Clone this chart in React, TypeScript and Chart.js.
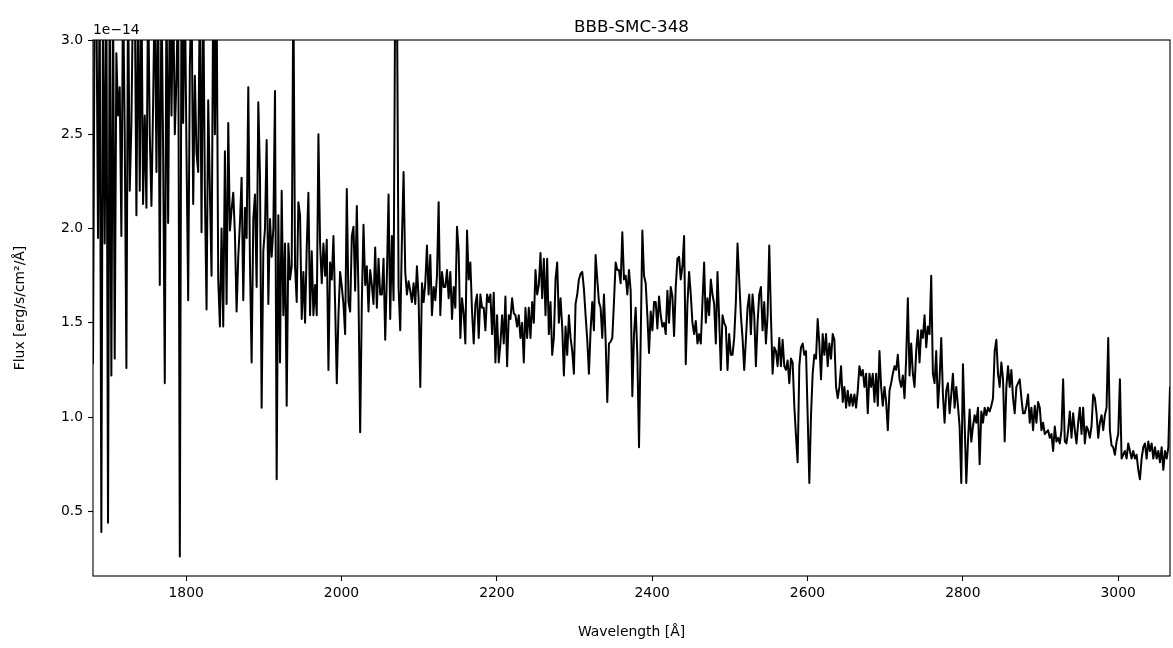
import React, { useEffect, useRef } from 'react';
import { Chart, registerables } from 'chart.js';

Chart.register(...registerables);

const TITLE = 'BBB-SMC-348';
const X_LABEL = 'Wavelength [Å]';
const Y_LABEL = 'Flux [erg/s/cm²/Å]';
const Y_OFFSET_TEXT = '1e\u221214';

const WAVE_START = 1680;
const WAVE_STEP = 2.15;
const xTickValues = [1800, 2000, 2200, 2400, 2600, 2800, 3000];
const yTickValues = [0.5, 1.0, 1.5, 2.0, 2.5, 3.0];
const Y_MIN = 0.157;
const Y_MAX = 3.0;

// flux in units of 1e-14 erg/s/cm^2/Å
const flux1680 = [
  1.28, 3.3, 3.3, 1.95, 3.3, 0.39, 3.3, 1.92, 3.3, 0.44,
  3.3, 1.22, 3.3, 1.31, 2.93, 2.6, 2.75, 1.96, 3.3, 2.5,
  1.26, 3.3, 2.2, 2.55, 3.3, 3.3, 2.07, 3.3, 2.2, 3.3,
  2.13, 2.6, 2.11, 3.3, 2.5, 2.12, 2.66, 3.3, 2.3, 3.3,
  1.70, 3.3, 2.41, 1.18, 3.3, 2.03, 3.3, 2.6, 3.3, 2.5,
  2.8, 3.3, 0.26, 3.3, 2.56, 3.3, 2.4, 1.62, 2.86, 3.3,
  2.13, 2.81, 2.4, 2.3, 3.3, 1.98, 3.3, 2.2, 1.57, 2.68,
  2.2, 1.75, 3.3, 2.5, 3.3, 1.73, 1.48,
];
const flux1846 = [
  2.0, 1.48, 2.41, 1.60, 2.56, 1.99, 2.10, 2.19, 1.97, 1.56,
  1.85, 2.03, 2.27, 1.62, 2.11, 1.95, 2.75, 1.82, 1.29, 2.05,
  2.18, 1.69, 2.67, 2.28, 1.05, 1.88, 2.00, 2.47, 1.60, 2.05,
  1.85, 2.0, 2.73, 0.67, 2.07, 1.29, 2.20, 1.54, 1.92, 1.06,
  1.92, 1.73, 1.80, 3.3, 1.80, 1.61, 2.14, 2.07, 1.52, 1.77,
  1.50, 1.90, 2.19, 1.54, 1.88, 1.54, 1.70, 1.54, 2.50, 1.92,
  1.71, 1.92, 1.75, 1.94, 1.25, 1.82, 1.73, 1.96, 1.60, 1.18,
  1.54, 1.77, 1.69, 1.60, 1.44, 2.21, 1.61, 1.56, 1.96, 2.01,
];
const flux2018 = [
  1.67, 2.12, 1.65, 0.92, 1.61, 2.02, 1.70, 1.80, 1.56, 1.78,
  1.70, 1.60, 1.90, 1.58, 1.84, 1.65, 1.65, 1.84, 1.41, 1.75,
  2.18, 1.52, 1.96, 1.62, 3.3, 3.3, 1.69, 1.46, 1.94, 2.30,
  1.77, 1.65, 1.72, 1.67, 1.61, 1.71, 1.60, 1.80, 1.63, 1.16,
  1.71, 1.61, 1.71, 1.91, 1.65, 1.86, 1.54, 1.69, 1.62, 1.75,
  2.14, 1.54, 1.77, 1.69, 1.69, 1.78, 1.63, 1.77, 1.52, 1.69,
  1.58, 2.01, 1.88, 1.42, 1.63, 1.55, 1.39, 1.99, 1.73, 1.82,
  1.56, 1.39, 1.60, 1.65, 1.42, 1.65, 1.58, 1.58, 1.46, 1.65,
  1.61,
];
const flux2192 = [
  1.65, 1.44, 1.66, 1.29, 1.54, 1.29, 1.39, 1.54, 1.39, 1.64,
  1.27, 1.54, 1.52, 1.63, 1.55, 1.54, 1.48, 1.54, 1.42, 1.50,
  1.29, 1.58, 1.42, 1.58, 1.42, 1.61, 1.50, 1.78, 1.65, 1.70,
  1.87, 1.63, 1.84, 1.54, 1.84, 1.44, 1.61, 1.33, 1.42, 1.73,
  1.82, 1.50, 1.63, 1.48, 1.22, 1.48, 1.33, 1.54, 1.42, 1.35,
  1.23, 1.60, 1.65, 1.73, 1.76, 1.77, 1.68, 1.54, 1.41, 1.23,
  1.46, 1.61, 1.46, 1.86, 1.73, 1.61, 1.58, 1.42, 1.65, 1.41,
  1.08, 1.39, 1.40, 1.42, 1.61, 1.82, 1.78, 1.78, 1.71, 1.98,
  1.73,
];
const flux2366 = [
  1.75, 1.65, 1.78, 1.67, 1.11, 1.44, 1.58, 1.33, 0.84, 1.41,
  1.99, 1.75, 1.71, 1.54, 1.34, 1.56, 1.46, 1.61, 1.61, 1.47,
  1.64, 1.54, 1.48, 1.50, 1.44, 1.67, 1.50, 1.69, 1.64, 1.43,
  1.69, 1.84, 1.85, 1.73, 1.80, 1.96, 1.28, 1.60, 1.77, 1.65,
  1.50, 1.44, 1.51, 1.39, 1.44, 1.39, 1.61, 1.82, 1.50, 1.63,
  1.54, 1.73, 1.65, 1.60, 1.39, 1.77, 1.52, 1.25, 1.54, 1.50,
  1.48, 1.25, 1.44, 1.33, 1.33, 1.42, 1.61, 1.92, 1.73, 1.54,
  1.42, 1.25, 1.41, 1.58, 1.65, 1.44, 1.65, 1.54, 1.27, 1.50,
  1.65,
];
const flux2540 = [
  1.69, 1.46, 1.61, 1.39, 1.54, 1.91, 1.54, 1.23, 1.37, 1.35,
  1.27, 1.42, 1.27, 1.41, 1.27, 1.25, 1.30, 1.18, 1.31, 1.29,
  1.06, 0.90, 0.76, 1.27, 1.37, 1.39, 1.33, 1.35, 1.01, 0.65,
  1.01, 1.23, 1.33, 1.31, 1.52, 1.39, 1.20, 1.44, 1.33, 1.44,
  1.27, 1.39, 1.31, 1.44, 1.41, 1.16, 1.10, 1.16, 1.27, 1.08,
  1.16, 1.05, 1.14, 1.06, 1.12, 1.06, 1.12, 1.05, 1.14, 1.27,
  1.22, 1.25, 1.16, 1.23, 1.02, 1.23, 1.16, 1.23, 1.08, 1.23,
  1.06, 1.35, 1.16, 1.06, 1.16, 1.08, 0.93, 1.14, 1.18, 1.23,
  1.27,
];
const flux2714 = [
  1.25, 1.33, 1.20, 1.16, 1.22, 1.10, 1.31, 1.63, 1.22, 1.39,
  1.23, 1.16, 1.35, 1.46, 1.29, 1.46, 1.42, 1.54, 1.37, 1.48,
  1.44, 1.75, 1.23, 1.18, 1.35, 1.05, 1.20, 1.42, 1.12, 0.97,
  1.14, 1.18, 1.02, 1.12, 1.23, 1.05, 1.16, 1.06, 0.95, 0.65,
  1.28, 0.97, 0.65, 0.87, 1.04, 0.87, 0.95, 1.01, 0.97, 1.05,
  0.75, 1.03, 0.97, 1.05, 1.01, 1.05, 1.03, 1.06, 1.10, 1.35,
  1.41, 1.23, 1.16, 1.29, 1.20, 0.87, 1.16, 1.27, 1.16, 1.25,
  1.10, 1.02, 1.16, 1.18, 1.20, 1.10, 1.02, 1.02, 1.06, 1.12,
  0.97,
];
const flux2888 = [
  1.05, 0.93, 1.06, 0.97, 1.08, 1.05, 0.93, 0.97, 0.91, 0.92,
  0.93, 0.89, 0.91, 0.82, 0.95, 0.87, 0.89, 0.86, 0.93, 1.20,
  0.87, 0.86, 0.93, 1.03, 0.89, 1.02, 0.93, 0.86, 0.97, 1.05,
  0.91, 1.05, 0.86, 0.95, 0.93, 0.89, 0.95, 1.12, 1.10, 1.02,
  0.89, 0.97, 1.01, 0.93, 1.01, 1.05, 1.42, 0.93, 0.85, 0.84,
  0.80, 0.87, 0.91, 1.20, 0.78, 0.80, 0.82, 0.78, 0.86, 0.82,
  0.78, 0.82, 0.78, 0.80, 0.72, 0.67, 0.78, 0.84, 0.86, 0.78,
  0.87, 0.82, 0.86, 0.78, 0.84, 0.78, 0.82, 0.76, 0.84, 0.72,
  0.82, 0.78, 0.84, 1.16,
];

const FONT = "'DejaVu Sans', sans-serif";

export default function App() {
  const ref = useRef<HTMLCanvasElement | null>(null);

  useEffect(() => {
    const canvas = ref.current;
    if (!canvas) return;
    const flux = [
      ...flux1680, ...flux1846, ...flux2018, ...flux2192,
      ...flux2366, ...flux2540, ...flux2714, ...flux2888,
    ];
    const points = flux.map((f, i) => ({ x: WAVE_START + i * WAVE_STEP, y: f }));
    const xMin = points[0].x;
    const xMax = points[points.length - 1].x;

    const decor = {
      id: 'decor',
      afterDatasetsDraw(chart: any) {
        const { ctx, chartArea: a } = chart;
        ctx.save();
        ctx.strokeStyle = '#000';
        ctx.lineWidth = 1.1;
        ctx.strokeRect(a.left, a.top, a.right - a.left, a.bottom - a.top);
        ctx.fillStyle = '#000';
        ctx.textBaseline = 'alphabetic';
        ctx.font = `16.7px ${FONT}`;
        ctx.textAlign = 'center';
        ctx.fillText(TITLE, (a.left + a.right) / 2, a.top - 8.3);
        ctx.font = `13.9px ${FONT}`;
        ctx.textAlign = 'left';
        ctx.fillText(Y_OFFSET_TEXT, a.left, a.top - 6);
        ctx.restore();
      },
    };

    const chart = new Chart(canvas, {
      type: 'line',
      data: {
        datasets: [
          {
            data: points,
            borderColor: '#000',
            borderWidth: 2,
            pointRadius: 0,
            tension: 0,
            fill: false,
            borderJoinStyle: 'round',
            clip: 0,
          } as any,
        ],
      },
      options: {
        animation: false,
        responsive: false,
        devicePixelRatio: 1,
        parsing: false,
        layout: { padding: { left: 0, right: 3, top: 40, bottom: 0 } },
        plugins: {
          legend: { display: false },
          title: { display: false },
          tooltip: { enabled: false },
        },
        scales: {
          x: {
            type: 'linear',
            min: xMin,
            max: xMax,
            afterBuildTicks: (s: any) => {
              s.ticks = xTickValues.map((v) => ({ value: v }));
            },
            afterFit: (s: any) => {
              s.height = 72;
            },
            grid: {
              display: true,
              drawOnChartArea: false,
              drawTicks: true,
              tickLength: 5,
              tickColor: '#000',
              tickWidth: 1.1,
            },
            border: { display: false },
            ticks: {
              color: '#000',
              padding: 4,
              maxRotation: 0,
              autoSkip: false,
              font: { family: FONT, size: 13.9 },
              callback: (v: any) => String(v),
            },
            title: {
              display: true,
              text: X_LABEL,
              color: '#000',
              font: { family: FONT, size: 13.9 },
              padding: { top: 0, bottom: 7.5 },
            },
          },
          y: {
            type: 'linear',
            min: Y_MIN,
            max: Y_MAX,
            afterBuildTicks: (s: any) => {
              s.ticks = yTickValues.map((v) => ({ value: v }));
            },
            afterFit: (s: any) => {
              s.width = 93;
            },
            grid: {
              display: true,
              drawOnChartArea: false,
              drawTicks: true,
              tickLength: 5,
              tickColor: '#000',
              tickWidth: 1.1,
            },
            border: { display: false },
            ticks: {
              color: '#000',
              padding: 5,
              autoSkip: false,
              font: { family: FONT, size: 13.9 },
              callback: (v: any) => Number(v).toFixed(1),
            },
            title: {
              display: true,
              text: Y_LABEL,
              color: '#000',
              font: { family: FONT, size: 13.9 },
              padding: { top: 12, bottom: 0 },
            },
          },
        },
      },
      plugins: [decor],
    });
    return () => chart.destroy();
  }, []);

  return (
    <div style={{ position: 'absolute', left: 0, top: 0, width: 1173, height: 648, background: '#fff' }}>
      <canvas ref={ref} width={1173} height={648} style={{ width: 1173, height: 648, display: 'block' }} />
    </div>
  );
}
